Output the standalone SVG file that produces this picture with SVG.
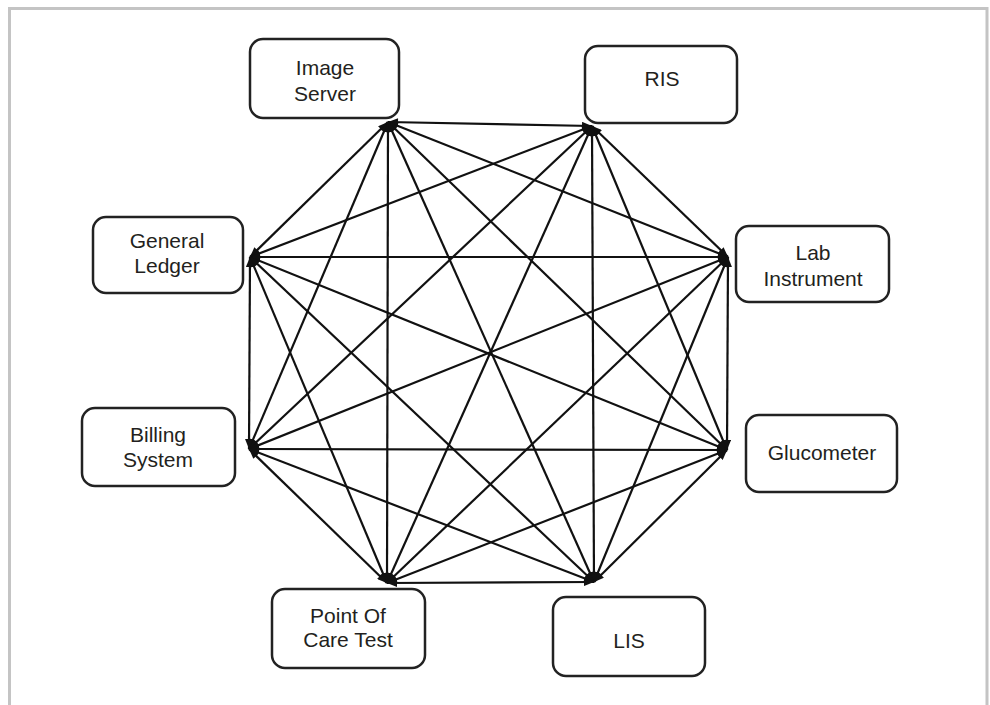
<svg xmlns="http://www.w3.org/2000/svg" width="990" height="705" viewBox="0 0 990 705">
<defs>
<marker id="ah" viewBox="0 0 10 8" refX="10" refY="4" markerWidth="11" markerHeight="8" markerUnits="userSpaceOnUse" orient="auto-start-reverse">
<path d="M0,0 L10,4 L0,8 z" fill="#111"/>
</marker>
<style>
.frame{fill:none;stroke:#c4c4c4;stroke-width:3}
.box{fill:#fff;stroke:#222;stroke-width:2.5}
.lbl{font-family:"Liberation Sans",Arial,sans-serif;font-size:21px;fill:#231f20;text-anchor:middle}
.e{stroke:#111;stroke-width:2.2;fill:none;marker-start:url(#ah);marker-end:url(#ah)}
</style>
</defs>
<rect width="990" height="705" fill="#fff"/>
<path class="frame" d="M9.5,705 V8.5 H987 V705"/>
<g id="connectors">
<line class="e" x1="388" y1="122" x2="592" y2="126"/>
<line class="e" x1="388" y1="122" x2="250" y2="257"/>
<line class="e" x1="388" y1="122" x2="728" y2="257"/>
<line class="e" x1="388" y1="122" x2="249" y2="449"/>
<line class="e" x1="388" y1="122" x2="727" y2="450"/>
<line class="e" x1="388" y1="122" x2="387" y2="583"/>
<line class="e" x1="388" y1="122" x2="594" y2="582"/>
<line class="e" x1="592" y1="126" x2="250" y2="257"/>
<line class="e" x1="592" y1="126" x2="728" y2="257"/>
<line class="e" x1="592" y1="126" x2="249" y2="449"/>
<line class="e" x1="592" y1="126" x2="727" y2="450"/>
<line class="e" x1="592" y1="126" x2="387" y2="583"/>
<line class="e" x1="592" y1="126" x2="594" y2="582"/>
<line class="e" x1="250" y1="257" x2="728" y2="257"/>
<line class="e" x1="250" y1="257" x2="249" y2="449"/>
<line class="e" x1="250" y1="257" x2="727" y2="450"/>
<line class="e" x1="250" y1="257" x2="387" y2="583"/>
<line class="e" x1="250" y1="257" x2="594" y2="582"/>
<line class="e" x1="728" y1="257" x2="249" y2="449"/>
<line class="e" x1="728" y1="257" x2="727" y2="450"/>
<line class="e" x1="728" y1="257" x2="387" y2="583"/>
<line class="e" x1="728" y1="257" x2="594" y2="582"/>
<line class="e" x1="249" y1="449" x2="727" y2="450"/>
<line class="e" x1="249" y1="449" x2="387" y2="583"/>
<line class="e" x1="249" y1="449" x2="594" y2="582"/>
<line class="e" x1="727" y1="450" x2="387" y2="583"/>
<line class="e" x1="727" y1="450" x2="594" y2="582"/>
<line class="e" x1="387" y1="583" x2="594" y2="582"/>
</g>
<g id="image-server">
<rect class="box" x="250" y="39" width="149" height="79" rx="13"/>
<text class="lbl" x="325" y="75">Image</text>
<text class="lbl" x="325" y="101">Server</text>
</g>
<g id="ris">
<rect class="box" x="585" y="46" width="152" height="77" rx="13"/>
<text class="lbl" x="662" y="86">RIS</text>
</g>
<g id="general-ledger">
<rect class="box" x="93" y="217" width="150" height="76" rx="13"/>
<text class="lbl" x="167" y="248">General</text>
<text class="lbl" x="167" y="273">Ledger</text>
</g>
<g id="lab-instrument">
<rect class="box" x="736" y="226" width="153" height="76" rx="13"/>
<text class="lbl" x="813" y="260">Lab</text>
<text class="lbl" x="813" y="286">Instrument</text>
</g>
<g id="billing-system">
<rect class="box" x="82" y="408" width="153" height="78" rx="13"/>
<text class="lbl" x="158" y="442">Billing</text>
<text class="lbl" x="158" y="467">System</text>
</g>
<g id="glucometer">
<rect class="box" x="746" y="415" width="151" height="77" rx="13"/>
<text class="lbl" x="822" y="460">Glucometer</text>
</g>
<g id="point-of-care-test">
<rect class="box" x="272" y="589" width="153" height="79" rx="13"/>
<text class="lbl" x="348" y="623">Point Of</text>
<text class="lbl" x="348" y="647">Care Test</text>
</g>
<g id="lis">
<rect class="box" x="553" y="597" width="152" height="79" rx="13"/>
<text class="lbl" x="629" y="648">LIS</text>
</g>
</svg>
